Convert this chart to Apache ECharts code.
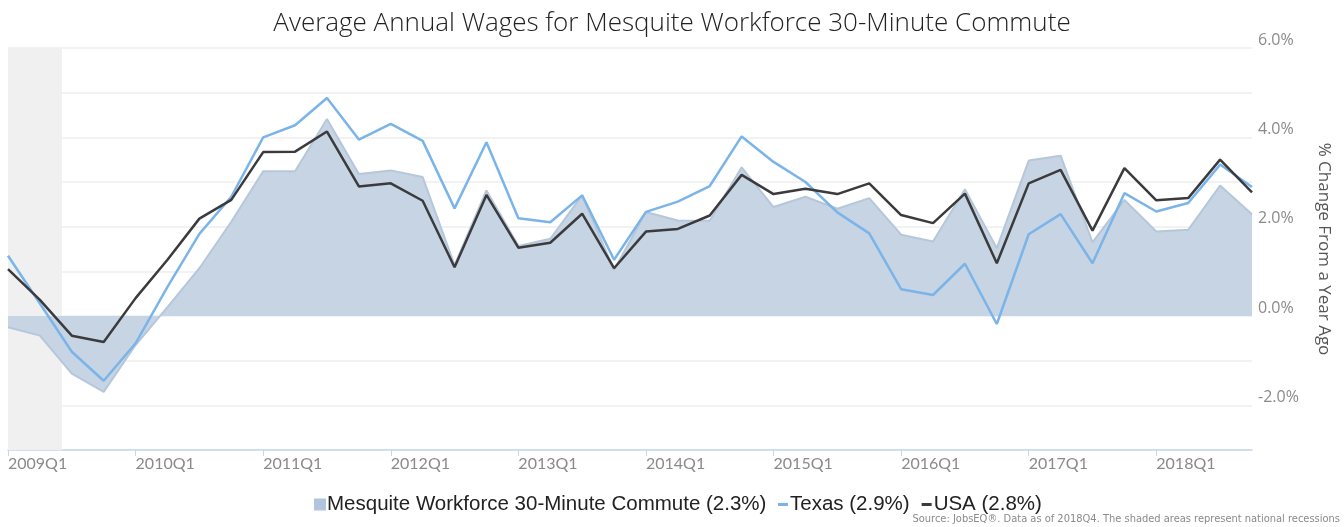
<!DOCTYPE html>
<html>
<head>
<meta charset="utf-8">
<script src="https://cdn.jsdelivr.net/npm/echarts@6/dist/echarts.min.js"></script>
<style>
  html, body { margin: 0; padding: 0; background: #fff; }
  #chart { width: 1344px; height: 527px; }
</style>
</head>
<body>
<div id="chart"></div>
<script>
// quarters 2009Q1 .. 2018Q4
const quarters = [];
for (let y = 2009; y <= 2018; y++) {
    for (let q = 1; q <= 4; q++) quarters.push(y + 'Q' + q);
}

// % change from a year ago
const mesquite = [
    -0.25, -0.44, -1.29, -1.70,
    -0.65, 0.20, 1.07, 2.11,
    3.24, 3.24, 4.41, 3.18,
    3.26, 3.11, 1.14, 2.81,
    1.57, 1.73, 2.70, 1.03,
    2.33, 2.14, 2.13, 3.33,
    2.44, 2.67, 2.40, 2.64,
    1.82, 1.67, 2.84, 1.52,
    3.48, 3.59, 1.65, 2.60,
    1.89, 1.93, 2.92, 2.28
];
const texas = [
    1.35, 0.28, -0.80, -1.45,
    -0.61, 0.65, 1.84, 2.67,
    4.00, 4.27, 4.88, 3.95,
    4.30, 3.92, 2.41, 3.89,
    2.19, 2.10, 2.70, 1.26,
    2.33, 2.56, 2.91, 4.02,
    3.45, 3.00, 2.32, 1.85,
    0.60, 0.47, 1.17, -0.18,
    1.83, 2.28, 1.18, 2.75,
    2.34, 2.53, 3.39, 2.89
];
const usa = [
    1.05, 0.36, -0.44, -0.58,
    0.40, 1.26, 2.18, 2.60,
    3.67, 3.68, 4.13, 2.90,
    2.97, 2.58, 1.09, 2.71,
    1.53, 1.64, 2.29, 1.07,
    1.89, 1.95, 2.25, 3.16,
    2.73, 2.85, 2.73, 2.97,
    2.26, 2.08, 2.74, 1.18,
    2.97, 3.27, 1.91, 3.31,
    2.59, 2.64, 3.50, 2.77
];

// recession (quarter index, 2009Q1 .. mid 2009)
const recession = [0, 1.69];

const names = [
    'Mesquite Workforce 30-Minute Commute (2.3%)',
    'Texas (2.9%)',
    'USA (2.8%)'
];

function pairs(arr) {
    return arr.map(function (v, i) { return [i, v]; });
}

const chart = echarts.init(document.getElementById('chart'));

const option = {
    animation: false,
    title: {
        text: 'Average Annual Wages for Mesquite Workforce 30-Minute Commute',
        left: 'center',
        top: 6,
        textStyle: {
            fontFamily: 'Open Sans, Lato, sans-serif',
            fontWeight: 300,
            fontSize: 26,
            color: '#222'
        }
    },
    graphic: [{
        type: 'text',
        right: 4,
        bottom: 2,
        style: {
            text: 'Source: JobsEQ®. Data as of 2018Q4. The shaded areas represent national recessions',
            font: '11px "Liberation Sans Narrow", "DejaVu Sans Condensed", sans-serif',
            fill: '#8a8a8a'
        }
    }],
    legend: [{
        data: [{ name: names[0], icon: 'rect' }],
        left: 309,
        top: 489,
        itemWidth: 12,
        itemHeight: 12,
        itemGap: 10,
        textStyle: { fontFamily: 'Liberation Sans, Arial, sans-serif', fontSize: 20.5, color: '#222', padding: [0, 0, 0, -4] }
    }, {
        data: [
            { name: names[1], icon: 'rect' },
            { name: names[2], icon: 'rect' }
        ],
        left: 773,
        top: 489,
        itemWidth: 10,
        itemHeight: 3,
        itemGap: 12,
        textStyle: { fontFamily: 'Liberation Sans, Arial, sans-serif', fontSize: 20.5, color: '#222', padding: [0, 0, 0, -3] }
    }],
    grid: {
        left: 8,
        right: 92,
        top: 48,
        bottom: 77,
        outerBoundsMode: 'none'
    },
    xAxis: {
        type: 'value',
        min: 0,
        max: quarters.length - 1,
        interval: 4,
        axisLine: { onZero: false, lineStyle: { color: '#c8d7e7', width: 1.5 } },
        axisTick: { show: true, length: 6, lineStyle: { color: '#c8d7e7' } },
        splitLine: { show: false },
        axisLabel: {
            showMaxLabel: false,
            align: 'left',
            margin: 6,
            fontFamily: 'Lato, Open Sans, sans-serif',
            fontSize: 16,
            color: '#8a8a8a',
            formatter: function (v) { return v % 4 === 0 ? quarters[v] : ''; }
        }
    },
    yAxis: {
        type: 'value',
        position: 'right',
        min: -3,
        max: 6,
        interval: 1,
        name: '% Change From a Year Ago',
        nameLocation: 'middle',
        nameRotate: -90,
        nameGap: 63,
        nameTextStyle: { fontFamily: 'Open Sans, sans-serif', fontSize: 17, color: '#555' },
        axisLine: { show: false },
        axisTick: { show: false },
        splitLine: { lineStyle: { color: '#eeeeee', width: 1.5 } },
        axisLabel: {
            margin: 6,
            verticalAlign: 'bottom',
            fontFamily: 'Open Sans, sans-serif',
            fontSize: 16,
            color: '#8a8a8a',
            formatter: function (v) {
                return (v % 2 === 0 && v > -3) ? v.toFixed(1) + '%' : '';
            }
        }
    },
    series: [{
        name: 'recession',
        type: 'line',
        data: [],
        z: 1,
        silent: true,
        markArea: {
            silent: true,
            itemStyle: { color: '#f0f0f0' },
            data: [[{ xAxis: recession[0] }, { xAxis: recession[1] }]]
        }
    }, {
        name: names[0],
        type: 'line',
        data: pairs(mesquite),
        z: 2,
        symbol: 'none',
        color: '#b0c4de',
        lineStyle: { color: '#b6c7da', width: 2 },
        areaStyle: { color: '#c6d4e3', opacity: 1 }
    }, {
        name: names[1],
        type: 'line',
        data: pairs(texas),
        z: 3,
        symbol: 'none',
        color: '#7ab4e9',
        lineStyle: { color: '#7ab4e9', width: 2.5 }
    }, {
        name: names[2],
        type: 'line',
        data: pairs(usa),
        z: 4,
        symbol: 'none',
        color: '#3b3b3d',
        lineStyle: { color: '#3b3b3d', width: 2.5 }
    }]
};

chart.setOption(option);
</script>
</body>
</html>
